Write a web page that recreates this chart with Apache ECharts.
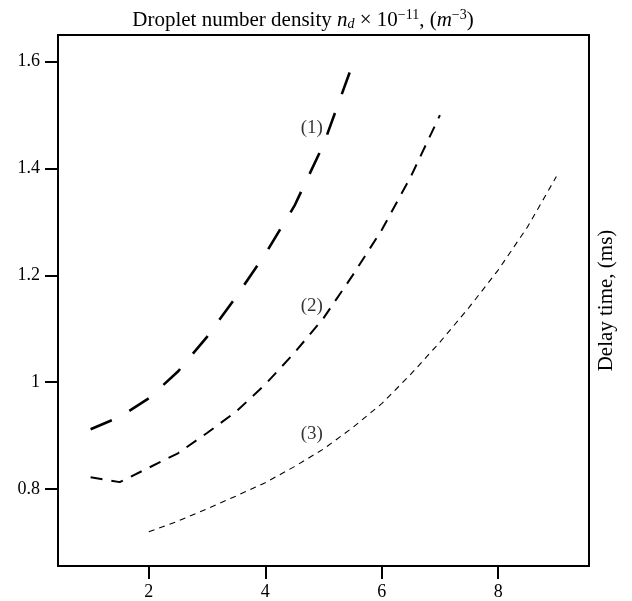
<!DOCTYPE html>
<html>
<head>
<meta charset="utf-8">
<script src="https://cdn.jsdelivr.net/npm/echarts@6/dist/echarts.min.js"></script>
<style>html,body{margin:0;padding:0;background:#fff;}#c{width:632px;height:601px;}</style>
</head>
<body>
<div id="c"></div>
<script>
const xTicks = [2, 4, 6, 8];
const yTicks = [0.8, 1, 1.2, 1.4, 1.6];

const curve1X = [1, 1.5, 2, 2.5, 3, 3.5, 4, 4.5, 5, 5.5];
const curve1Y = [0.912, 0.935, 0.97, 1.02, 1.085, 1.16, 1.24, 1.33, 1.445, 1.595];

const curve2X = [1, 1.5, 2, 2.5, 3, 3.5, 4, 4.5, 5, 5.5, 6, 6.5, 7];
const curve2Y = [0.822, 0.813, 0.84, 0.867, 0.905, 0.945, 0.996, 1.055, 1.12, 1.2, 1.285, 1.385, 1.5];

const curve3X = [2, 2.5, 3, 3.5, 4, 4.5, 5, 5.5, 6, 6.5, 7, 7.5, 8, 8.5, 9];
const curve3Y = [0.72, 0.74, 0.763, 0.787, 0.812, 0.842, 0.875, 0.915, 0.96, 1.015, 1.075, 1.14, 1.21, 1.29, 1.385];

const curveLabels = ['(1)', '(2)', '(3)'];
const labelX = [4.8, 4.8, 4.8];
const labelY = [1.475, 1.143, 0.903];

const FONT = 'Liberation Serif';
const zip = (xs, ys) => xs.map((x, i) => [x, ys[i]]);

const chart = echarts.init(document.getElementById('c'), null, {renderer: 'canvas'});
chart.setOption({
  animation: false,
  backgroundColor: '#fff',
  title: {
    text: '{a|Droplet number density }{i|n}{sub|d}{a| × 10}{sup|−11}{a|, (}{i|m}{sup|−3}{a|)}',
    left: 298,
    top: 3,
    textAlign: 'center',
    textStyle: {
      fontWeight: 'normal',
      rich: {
        a: {fontFamily: FONT, fontSize: 21, fontWeight: 'normal', color: '#000'},
        i: {fontFamily: FONT, fontSize: 21, fontWeight: 'normal', fontStyle: 'italic', color: '#000'},
        sub: {fontFamily: FONT, fontSize: 14, fontWeight: 'normal', fontStyle: 'italic', color: '#000', padding: [9, 0, 0, 0]},
        sup: {fontFamily: FONT, fontSize: 14, fontWeight: 'normal', color: '#000', padding: [0, 0, 10, 0]}
      }
    }
  },
  grid: {left: 58, right: 43, top: 35, bottom: 34, show: true, borderColor: '#000', borderWidth: 2, containLabel: false},
  xAxis: {
    type: 'value', min: 0.44, max: 9.56,
    splitLine: {show: false},
    axisLine: {show: false},
    axisTick: {show: true, length: 13, lineStyle: {color: '#000', width: 2}, customValues: xTicks},
    axisLabel: {customValues: xTicks, margin: 17, fontFamily: FONT, fontSize: 18, color: '#000'}
  },
  yAxis: [{
    type: 'value', min: 0.656, max: 1.65,
    splitLine: {show: false},
    axisLine: {show: false},
    axisTick: {show: true, length: 13, lineStyle: {color: '#000', width: 2}, customValues: yTicks},
    axisLabel: {customValues: yTicks, margin: 18, fontFamily: FONT, fontSize: 18, color: '#000'}
  }, {
    type: 'value', min: 0.656, max: 1.65, position: 'right',
    name: 'Delay time, (ms)', nameLocation: 'middle', nameRotate: 90, nameGap: 7,
    nameTextStyle: {fontFamily: FONT, fontSize: 21, color: '#000', verticalAlign: 'top'},
    splitLine: {show: false}, axisLine: {show: false}, axisTick: {show: false}, axisLabel: {show: false}
  }],
  series: [
    {type: 'line', data: zip(curve1X, curve1Y), symbol: 'none',
     lineStyle: {color: '#000', width: 2.6, type: [23, 20], cap: 'butt'}},
    {type: 'line', data: zip(curve2X, curve2Y), symbol: 'none',
     lineStyle: {color: '#000', width: 2, type: [12, 9], cap: 'butt'}},
    {type: 'line', data: zip(curve3X, curve3Y), symbol: 'none',
     lineStyle: {color: '#000', width: 1.1, type: [6, 5], cap: 'butt'}},
    {type: 'scatter', symbolSize: 0,
     data: curveLabels.map((t, i) => ({value: [labelX[i], labelY[i]], name: t})),
     label: {show: true, position: 'inside', formatter: p => p.name, fontFamily: FONT, fontSize: 19, color: '#000'}}
  ]
});
</script>
</body>
</html>
